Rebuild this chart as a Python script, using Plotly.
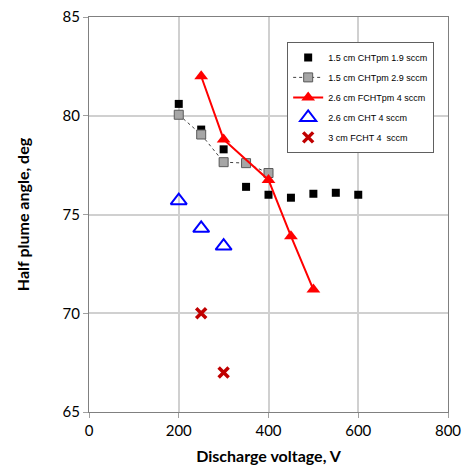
import plotly.graph_objects as go

# Data
v_a = [200, 250, 300, 350, 400, 450, 500, 550, 600]
ang_a = [80.6, 79.3, 78.3, 76.4, 76.0, 75.85, 76.05, 76.1, 76.0]

v_b = [200, 250, 300, 350, 400]
ang_b = [80.05, 79.05, 77.65, 77.6, 77.1]

v_c = [250, 300, 400, 450, 500]
ang_c = [82.0, 78.8, 76.75, 73.9, 71.2]

v_d = [200, 250, 300]
ang_d = [75.7, 74.3, 73.4]

v_e = [250, 300]
ang_e = [70.0, 67.0]

names = ["1.5 cm CHTpm 1.9 sccm", "1.5 cm CHTpm 2.9 sccm", "2.6 cm FCHTpm 4 sccm",
         "2.6 cm CHT 4 sccm", "3 cm FCHT 4  sccm"]

fig = go.Figure()
fig.add_trace(go.Scatter(x=v_a, y=ang_a, mode="markers", name=names[0], legendgroup="a",
                         marker=dict(symbol="square", size=8, color="black")))
fig.add_trace(go.Scatter(x=v_b, y=ang_b, mode="lines+markers", name=names[1], legendgroup="b",
                         line=dict(color="#404040", width=1, dash="dot"),
                         marker=dict(symbol="square", size=9, color="#A6A6A6",
                                     line=dict(color="#595959", width=1))))
fig.add_trace(go.Scatter(x=v_c, y=ang_c, mode="lines+markers", name=names[2], legendgroup="c",
                         line=dict(color="#FF0000", width=2),
                         marker=dict(symbol="triangle-up", size=12, color="#FF0000")))
fig.add_trace(go.Scatter(x=v_d, y=ang_d, mode="markers", name=names[3], legendgroup="d",
                         marker=dict(symbol="triangle-up-open", size=14, color="#0000FF",
                                     line=dict(width=2, color="#0000FF"))))
fig.add_trace(go.Scatter(x=v_e, y=ang_e, mode="markers", name=names[4], legendgroup="e",
                         marker=dict(symbol="x-thin-open", size=10, color="#C00000",
                                     line=dict(width=3.5, color="#C00000"))))

fam = "Lato, Open Sans, sans-serif"
tickfont = dict(family=fam, size=15, color="black")
fig.update_layout(
    width=464, height=466,
    margin=dict(l=89, r=16, t=17, b=54, autoexpand=False),
    plot_bgcolor="white", paper_bgcolor="white",
    xaxis=dict(range=[0, 800], tickvals=[0, 200, 400, 600, 800], automargin=False,
               showgrid=True, gridcolor="#D0D0D0", gridwidth=1.5,
               showline=True, linecolor="#808080", mirror=True,
               ticks="outside", ticklen=5, tickcolor="#A0A0A0",
               zeroline=False, tickfont=tickfont,
               title=dict(text="<b>Discharge voltage, V</b>", standoff=12,
                          font=dict(family=fam, size=16, color="black"))),
    yaxis=dict(range=[65, 85], tickvals=[65, 70, 75, 80, 85], automargin=False,
               showgrid=True, gridcolor="#D0D0D0", gridwidth=1.5,
               showline=True, linecolor="#808080", mirror=True,
               ticks="outside", ticklen=5, tickcolor="#A0A0A0",
               zeroline=False, tickfont=tickfont,
               title=dict(text="<b>Half plume angle, deg</b>", standoff=28,
                          font=dict(family=fam, size=16, color="black"))),
    legend=dict(x=0.552, y=0.937, xanchor="left", yanchor="top",
                bgcolor="white", bordercolor="#606060", borderwidth=1,
                font=dict(family="Liberation Sans Narrow, Arial Narrow, sans-serif", size=9, color="black"),
                itemwidth=30, tracegroupgap=1),
    showlegend=True,
)

fig.write_html("out.html")
